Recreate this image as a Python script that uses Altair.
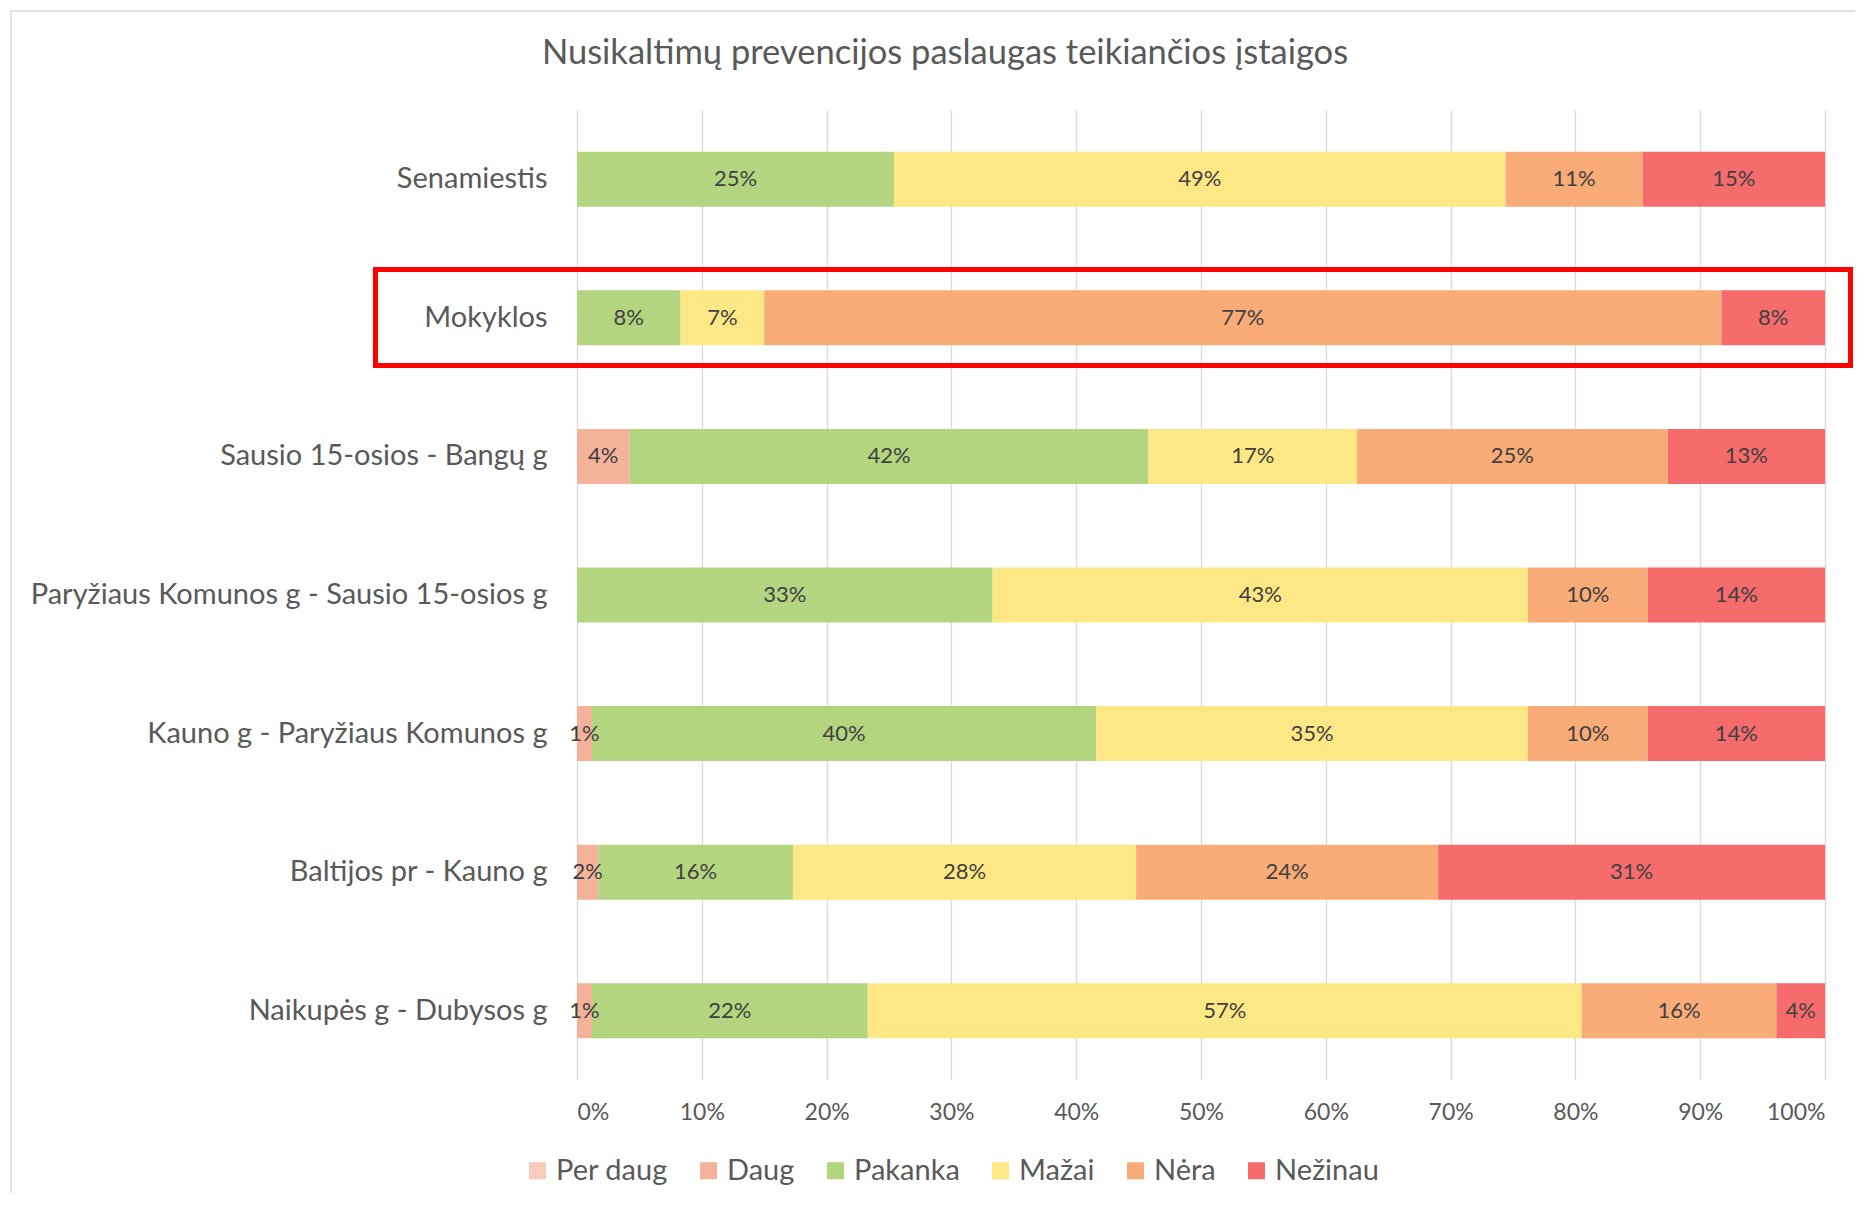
import altair as alt
import pandas as pd

categories = [
    "Senamiestis",
    "Mokyklos",
    "Sausio 15-osios - Bangų g",
    "Paryžiaus Komunos g - Sausio 15-osios g",
    "Kauno g - Paryžiaus Komunos g",
    "Baltijos pr - Kauno g",
    "Naikupės g - Dubysos g",
]
series = ["Per daug", "Daug", "Pakanka", "Mažai", "Nėra", "Nežinau"]
colors = ["#F8CBBD", "#F4B29B", "#B3D580", "#FEE885", "#F9AB78", "#F66C6C"]

per_daug = [0, 0, 0, 0, 0, 0, 0]
daug = [0, 0, 4.2, 0, 1.2, 1.7, 1.2]
pakanka = [25.4, 8.3, 41.6, 33.3, 40.4, 15.6, 22.1]
mazai = [49.0, 6.7, 16.7, 42.9, 34.6, 27.5, 57.2]
nera = [11.0, 76.7, 24.9, 9.6, 9.6, 24.2, 15.6]
nezinau = [14.6, 8.3, 12.6, 14.2, 14.2, 31.0, 3.9]

x_ticks = [0, 10, 20, 30, 40, 50, 60, 70, 80, 90, 100]

title_text = "Nusikaltimų prevencijos paslaugas teikiančios įstaigos"

FONT = "Lato"
series_values = [per_daug, daug, pakanka, mazai, nera, nezinau]
rows = []
for si, (s, vals) in enumerate(zip(series, series_values)):
    for c, v in zip(categories, vals):
        rows.append({"cat": c, "series": s, "value": v, "order": si})
df = pd.DataFrame(rows)

W, H = 1248, 970

base = alt.Chart(df).transform_stack(
    stack="value",
    groupby=["cat"],
    as_=["x0", "x1"],
    sort=[alt.SortField("order", order="ascending")],
).transform_calculate(
    mid="(datum.x0 + datum.x1) / 2",
    label="format(datum.value, '.0f') + '%'",
)

bars = base.mark_bar(size=55).encode(
    x=alt.X(
        "x0:Q",
        scale=alt.Scale(domain=[0, 100], nice=False, zero=True),
        axis=alt.Axis(
            values=x_ticks,
            labelExpr="datum.value + '%'",
            grid=True,
            gridColor="#D9D9D9",
            gridWidth=1.3,
            domain=False,
            ticks=False,
            labelFontSize=23,
            labelColor="#595959",
            labelPadding=21,
            title=None,
        ),
    ),
    x2="x1:Q",
    y=alt.Y(
        "cat:N",
        sort=categories,
        axis=alt.Axis(
            labelFontSize=29,
            labelColor="#595959",
            labelPadding=30,
            ticks=False,
            domain=False,
            grid=False,
            labelLimit=0,
            title=None,
        ),
    ),
    color=alt.Color(
        "series:N",
        scale=alt.Scale(domain=series, range=colors),
        legend=alt.Legend(
            orient="none",
            legendX=-54,
            legendY=1046,
            direction="horizontal",
            symbolType="square",
            symbolSize=289,
            symbolStrokeWidth=0,
            labelFontSize=29,
            labelColor="#595959",
            columnPadding=26,
            labelOffset=4,
            title=None,
        ),
    ),
    order=alt.Order("order:Q"),
)

labels = base.transform_filter("datum.value > 0").mark_text(
    fontSize=22, color="#404040", font=FONT
).encode(
    x=alt.X("mid:Q"),
    y=alt.Y("cat:N", sort=categories),
    text="label:N",
)

dummy = pd.DataFrame({"a": [0]})
border = alt.Chart(dummy).mark_rect(
    filled=False, stroke="#D9D9D9", strokeWidth=1.5
).encode(
    x=alt.value(-566), x2=alt.value(1400), y=alt.value(-99), y2=alt.value(1200)
)

red_box = alt.Chart(dummy).mark_rect(
    filled=False, stroke="#FF0000", strokeWidth=5
).encode(
    x=alt.value(-201.5), x2=alt.value(1273.5), y=alt.value(159.5), y2=alt.value(255.5)
)

title = alt.Chart(pd.DataFrame({"t": [title_text]})).mark_text(
    fontSize=34.5, font=FONT, color="#595959", align="center", baseline="middle"
).encode(x=alt.value(368), y=alt.value(-56), text="t:N")

chart = alt.layer(border, bars, labels, red_box, title).properties(
    width=W,
    height=H,
    autosize=alt.AutoSizeParams(type="none"),
    padding={"left": 569, "top": 102, "right": 30, "bottom": 113},
).configure(font=FONT).configure_view(stroke=None)

chart.save("out.html", embed_options={"renderer": "svg", "actions": False})
